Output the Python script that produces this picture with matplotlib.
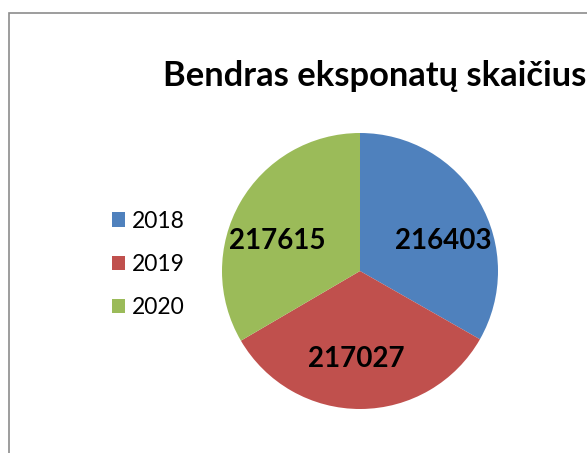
import matplotlib
matplotlib.use("Agg")
import matplotlib.pyplot as plt
from matplotlib.patches import Patch, Rectangle
import numpy as np

years = ["2018", "2019", "2020"]
values = [216403, 217027, 217615]
colors = ["#4F81BD", "#C0504D", "#9BBB59"]
title = "Bendras eksponatų skaičius"

W, H = 587, 453
fig = plt.figure(figsize=(W / 100, H / 100), dpi=100)
fig.patch.set_facecolor("white")

# border (open on right/bottom as in the reference crop)
fig.patches.append(Rectangle((8.5 / W, -0.1), 1.2, 1.1 - 12.5 / H,
                             transform=fig.transFigure, fill=False,
                             edgecolor="#8c8c8c", linewidth=1.2))

cx, cy, r = 360, 271, 138
ax = fig.add_axes([(cx - r) / W, (H - cy - r) / H, 2 * r / W, 2 * r / H])
wedges, _ = ax.pie(values, colors=colors, startangle=90, counterclock=False,
                   radius=1.0, wedgeprops=dict(linewidth=0, antialiased=True))
ax.set_xlim(-1, 1)
ax.set_ylim(-1, 1)
ax.set_aspect("equal")
ax.axis("off")

# data labels
for w, v in zip(wedges, values):
    mid = np.deg2rad((w.theta1 + w.theta2) / 2)
    x, y = 0.64 * np.cos(mid), 0.64 * np.sin(mid)
    if abs(np.cos(mid)) > 0.3:
        y = 0.22
        x = np.sign(np.cos(mid)) * 0.6
    else:
        x -= 0.03
    ax.text(x, y, str(v), ha="center", va="center", fontsize=20,
            fontweight="bold", family="Lato", color="black")

fig.text(163 / W, 1 - 86 / H, title, ha="left", va="baseline",
         fontsize=24.8, fontweight="bold", family="Lato")

handles = [Patch(facecolor=c, edgecolor="none") for c in colors]
fig.legend(handles, years, loc="center left",
           bbox_to_anchor=(112 / W, 1 - 264.5 / H), frameon=False,
           prop=dict(family="Lato", size=16.5), handlelength=0.58,
           handleheight=0.58, handletextpad=0.3, labelspacing=0.98,
           borderpad=0, borderaxespad=0)

fig.savefig("out.png", dpi=100)
